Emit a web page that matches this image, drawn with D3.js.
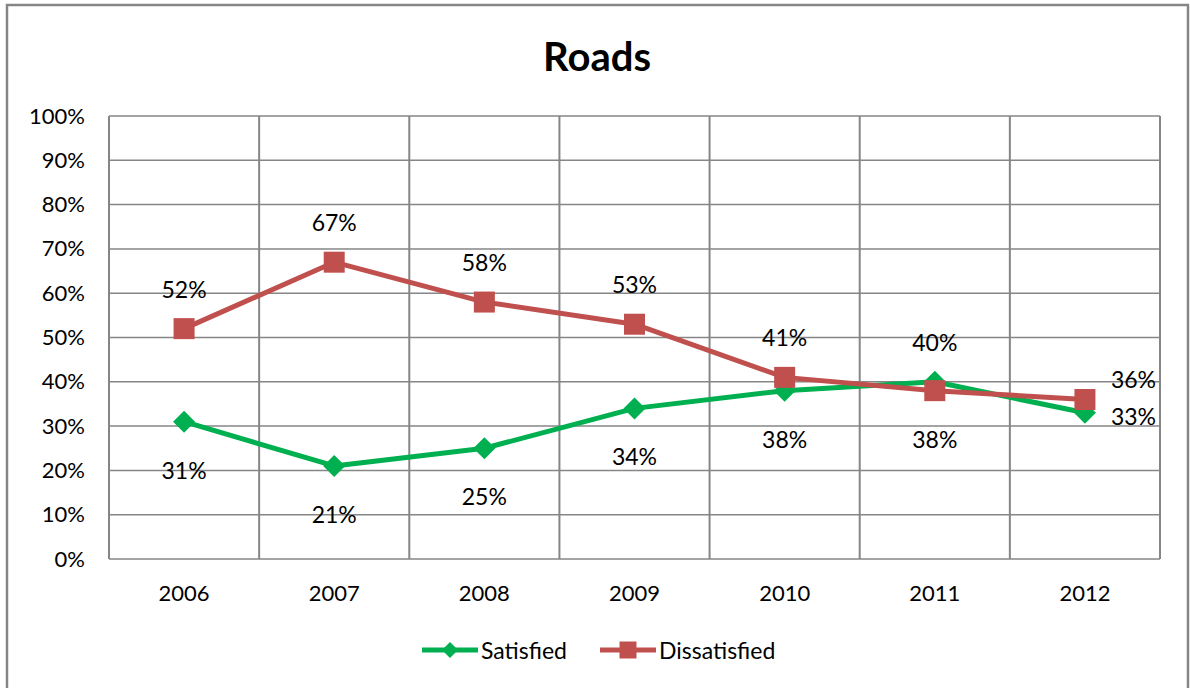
<!DOCTYPE html>
<html><head><meta charset="utf-8">
<script src="https://cdn.jsdelivr.net/npm/d3@7"></script>
<style>body{margin:0;background:#fff}svg{display:block}text{font-family:Lato,"Open Sans",sans-serif;fill:#000}</style>
</head><body><svg id="c" width="1190" height="688"></svg>
<script>
const title = "Roads";
const years = ["2006","2007","2008","2009","2010","2011","2012"];
const satisfied = [0.31,0.21,0.25,0.34,0.38,0.40,0.33];
const dissatisfied = [0.52,0.67,0.58,0.53,0.41,0.38,0.36];
const yTicks = [0,0.1,0.2,0.3,0.4,0.5,0.6,0.7,0.8,0.9,1.0];
const seriesNames = ["Satisfied","Dissatisfied"];
const colors = {Satisfied:"#00B050", Dissatisfied:"#C0504D"};

const svg = d3.select("#c");
const L=109,R=1160,T=116,B=559;
svg.append("rect").attr("x",7).attr("y",5).attr("width",1181).attr("height",700)
  .attr("fill","#fff").attr("stroke","#868686").attr("stroke-width",2.5);

const x = d3.scaleBand().domain(years).range([L,R]);
const y = d3.scaleLinear().domain([0,1]).range([B,T]);
const fmt = d3.format(".0%");
const FF = "Lato,'Open Sans',sans-serif";

// grid
const g = svg.append("g");
g.selectAll(".hg").data(yTicks).join("line")
  .attr("x1",L).attr("x2",R).attr("y1",d=>y(d)).attr("y2",d=>y(d))
  .attr("stroke","#868686").attr("stroke-width",1.5);
const vb = years.map(d=>x(d)).concat([R]);
g.selectAll(".vg").data(vb).join("line")
  .attr("x1",d=>d).attr("x2",d=>d).attr("y1",T).attr("y2",B)
  .attr("stroke","#868686").attr("stroke-width",2);

// axes
const ya = svg.append("g").attr("transform",`translate(${L},0)`)
  .call(d3.axisLeft(y).tickValues(yTicks).tickFormat(fmt).tickSize(0).tickPadding(24));
ya.select(".domain").remove();
ya.selectAll("text").attr("font-size",22).attr("font-family",FF).attr("fill","#000");
const xa = svg.append("g").attr("transform",`translate(0,${B})`)
  .call(d3.axisBottom(x).tickSize(0).tickPadding(26));
xa.select(".domain").remove();
xa.selectAll("text").attr("font-size",22).attr("font-family",FF).attr("fill","#000");

// title
svg.append("text").attr("x",597).attr("y",71).attr("text-anchor","middle")
  .attr("font-size",40).attr("font-weight","bold").text(title);

const cx = d=>x(d)+x.bandwidth()/2;
const line = d3.line().x((d,i)=>cx(years[i])).y(d=>y(d));
const diamondPath = r => `M0,${-r}L${r},0L0,${r}L${-r},0Z`;
const squarePath = h => `M${-h},${-h}H${h}V${h}H${-h}Z`;

function drawSeries(vals,name,shape){
  const c = colors[name];
  svg.append("path").datum(vals).attr("d",line).attr("fill","none")
    .attr("stroke",c).attr("stroke-width",5).attr("stroke-linejoin","round");
  svg.append("g").selectAll("path").data(vals).join("path")
    .attr("d",shape).attr("fill",c)
    .attr("transform",(d,i)=>`translate(${cx(years[i])},${y(d)})`);
}
drawSeries(satisfied,"Satisfied",diamondPath(11));
drawSeries(dissatisfied,"Dissatisfied",squarePath(10.5));

// labels
function labels(vals,isAbove){
  const last = vals.length-1;
  svg.append("g").selectAll("text").data(vals).join("text")
    .attr("font-size",23)
    .attr("text-anchor",(d,i)=>i===last?"start":"middle")
    .attr("dominant-baseline","central")
    .attr("x",(d,i)=>i===last?cx(years[i])+26:cx(years[i]))
    .attr("y",(d,i)=>{
      const other = isAbove ? satisfied[i] : dissatisfied[i];
      const top = d>=other;
      if(i===last) return y(d)+(top?-21:3);
      return y(d)+(top?-40:48);
    })
    .text(d=>fmt(d));
}
labels(satisfied,false);
labels(dissatisfied,true);

// legend
const lg = svg.append("g");
const items = [{n:"Satisfied",x1:422,shape:diamondPath(8)},{n:"Dissatisfied",x1:600,shape:squarePath(8.5)}];
items.forEach(it=>{
  lg.append("line").attr("x1",it.x1).attr("x2",it.x1+56).attr("y1",650).attr("y2",650)
    .attr("stroke",colors[it.n]).attr("stroke-width",5);
  lg.append("path").attr("d",it.shape)
    .attr("fill",colors[it.n]).attr("transform",`translate(${it.x1+28},650)`);
  lg.append("text").attr("x",it.x1+59).attr("y",650).attr("dominant-baseline","central")
    .attr("font-size",23).text(it.n);
});
</script></body></html>
